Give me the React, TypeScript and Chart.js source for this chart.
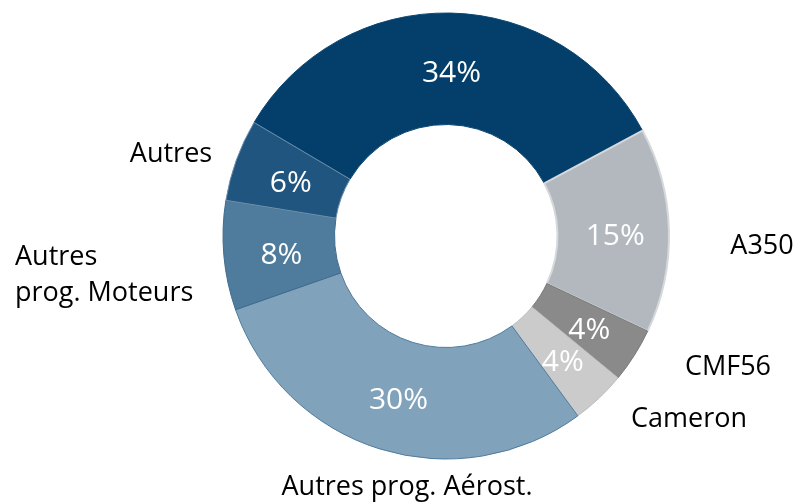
import React, { useEffect, useRef } from "react";
import { Chart, registerables } from "chart.js";

Chart.register(...registerables);

// Data (clockwise from the top-left)
const categories = ["Autres prog. Aéronautiques haut", "A350", "CMF56", "Cameron", "Autres prog. Aérost.", "Autres prog. Moteurs", "Autres"];
const shares = [34, 15, 4, 4, 30, 8, 6];
const sliceColors = ["#033F6A", "#B2B8BD", "#8A8A8A", "#CBCBCB", "#81A2BB", "#4F7B9D", "#20557F"];
const sliceBorders = ["#0A4672", "#D6D9DC", "#7A7A7A", "#BDBDBD", "#4F7B9D", "#3F6A8D", "#6E8FAD"];
const sliceBorderWidths = [1, 2, 1, 1, 1, 1, 1];

// Outside labels (text + layout)
const outerLabels = [
  { lines: ["A350"], x: 762, y: 254, align: "center" },
  { lines: ["CMF56"], x: 728, y: 375, align: "center" },
  { lines: ["Cameron"], x: 689, y: 427, align: "center" },
  { lines: ["Autres prog. Aérost."], x: 407, y: 495, align: "center" },
  { lines: ["Autres", "prog. Moteurs"], x: 15, y: 265, align: "left" },
  { lines: ["Autres"], x: 171, y: 162, align: "center" },
];

const FONT = "'Open Sans', 'Noto Sans', sans-serif";

const labelPlugin = {
  id: "sliceLabels",
  afterDraw(chart: any) {
    const ctx = chart.ctx;
    const meta = chart.getDatasetMeta(0);
    ctx.save();
    ctx.font = `30px ${FONT}`;
    ctx.fillStyle = "#FFFFFF";
    ctx.textAlign = "center";
    ctx.textBaseline = "alphabetic";
    meta.data.forEach((arc: any, i: number) => {
      const p = arc.getCenterPoint();
      ctx.fillText(`${shares[i]}%`, p.x + 2, p.y + 13);
    });
    ctx.font = `27px ${FONT}`;
    ctx.fillStyle = "#000000";
    outerLabels.forEach((l) => {
      ctx.textAlign = l.align as CanvasTextAlign;
      l.lines.forEach((t, k) => ctx.fillText(t, l.x, l.y + k * 36));
    });
    ctx.restore();
  },
};

export default function App() {
  const ref = useRef<HTMLCanvasElement>(null);
  useEffect(() => {
    if (!ref.current) return;
    const chart = new Chart(ref.current, {
      type: "doughnut",
      data: {
        labels: categories,
        datasets: [
          {
            data: shares,
            backgroundColor: sliceColors,
            borderColor: sliceBorders,
            borderWidth: sliceBorderWidths,
          },
        ],
      },
      options: {
        responsive: false,
        animation: false,
        rotation: -59.4,
        cutout: "50%",
        layout: { padding: { top: 12, bottom: 43, left: 222, right: 131 } },
        plugins: { legend: { display: false }, tooltip: { enabled: false } },
      },
      plugins: [labelPlugin],
    });
    return () => chart.destroy();
  }, []);
  return (
    <div style={{ position: "absolute", left: 0, top: 0, width: 801, height: 503, background: "#fff" }}>
      <canvas ref={ref} width={801} height={503} />
    </div>
  );
}
